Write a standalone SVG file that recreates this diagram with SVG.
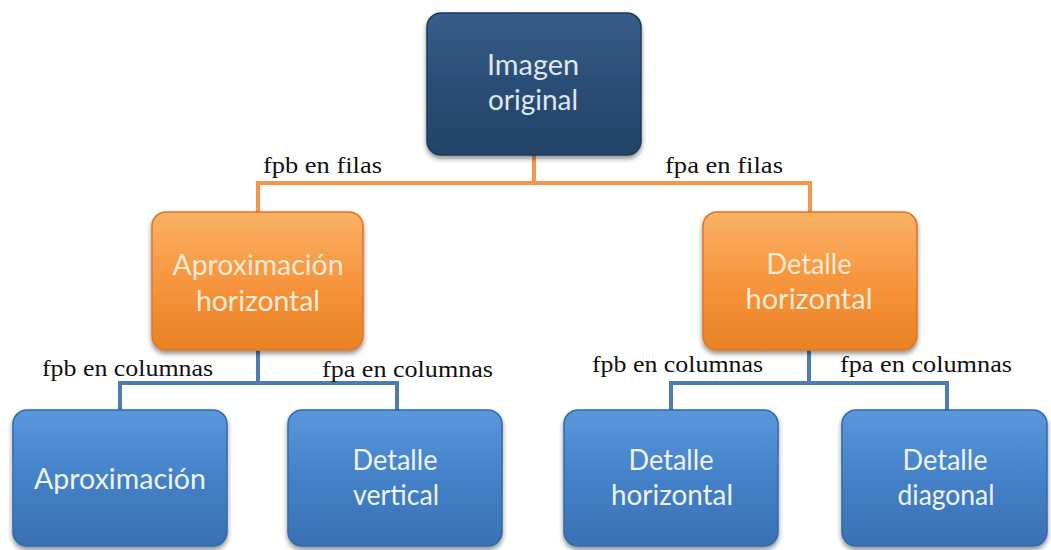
<svg xmlns="http://www.w3.org/2000/svg" width="1051" height="550" viewBox="0 0 1051 550">
  <defs>
    <linearGradient id="gNavy" x1="0" y1="0" x2="0" y2="1">
      <stop offset="0" stop-color="#375e8a"/>
      <stop offset="0.5" stop-color="#2b4d76"/>
      <stop offset="1" stop-color="#244368"/>
    </linearGradient>
    <linearGradient id="gOrange" x1="0" y1="0" x2="0" y2="1">
      <stop offset="0" stop-color="#fbb266"/>
      <stop offset="0.5" stop-color="#f7953e"/>
      <stop offset="1" stop-color="#ea8124"/>
    </linearGradient>
    <linearGradient id="gBlue" x1="0" y1="0" x2="0" y2="1">
      <stop offset="0" stop-color="#5a97dc"/>
      <stop offset="0.5" stop-color="#4481c8"/>
      <stop offset="1" stop-color="#3a70b4"/>
    </linearGradient>
    <filter id="shadow" x="-10%" y="-10%" width="120%" height="130%">
      <feGaussianBlur in="SourceAlpha" stdDeviation="2.5"/>
      <feOffset dx="0" dy="3" result="b"/>
      <feComponentTransfer><feFuncA type="linear" slope="0.45"/></feComponentTransfer>
      <feMerge><feMergeNode/><feMergeNode in="SourceGraphic"/></feMerge>
    </filter>
  </defs>
  <style>
    .navy { fill: url(#gNavy); stroke: #1e3a5c; stroke-width: 1.5; filter: url(#shadow); }
    .orange { fill: url(#gOrange); stroke: #d9782a; stroke-width: 1.5; filter: url(#shadow); }
    .blue { fill: url(#gBlue); stroke: #336aa8; stroke-width: 1.5; filter: url(#shadow); }
    .lbl { font-family: "Lato", "Open Sans", sans-serif; font-size: 28px; text-anchor: middle; }
    .tNavy { fill: #dfe6ef; }
    .tOrange { fill: #fdebd6; }
    .tBlue { fill: #eef4fb; }
    .edge { font-family: "Liberation Serif", "Times New Roman", serif; font-size: 24px; fill: #111111; }
    .cOrange { fill: none; stroke: #f5964a; stroke-width: 4; }
    .cBlue { fill: none; stroke: #4d7cb4; stroke-width: 4; }
  </style>

  <rect width="1051" height="550" fill="#ffffff"/>

  <!-- connectors -->
  <g id="connectors">
    <path class="cOrange" d="M534 155 V183 M258 183 H810 M258 181 V212 M810 181 V212"/>
    <path class="cBlue" d="M258 350 V383 M120 383 H397 M120 381 V410 M397 381 V410"/>
    <path class="cBlue" d="M809 350 V383 M671 383 H947 M671 381 V410 M947 381 V410"/>
    <text class="edge" x="263" y="173" textLength="119" lengthAdjust="spacingAndGlyphs">fpb en filas</text>
    <text class="edge" x="665" y="173" textLength="118" lengthAdjust="spacingAndGlyphs">fpa en filas</text>
    <text class="edge" x="42" y="376" textLength="171" lengthAdjust="spacingAndGlyphs">fpb en columnas</text>
    <text class="edge" x="322" y="377" textLength="171" lengthAdjust="spacingAndGlyphs">fpa en columnas</text>
    <text class="edge" x="592" y="372" textLength="171" lengthAdjust="spacingAndGlyphs">fpb en columnas</text>
    <text class="edge" x="840" y="372" textLength="172" lengthAdjust="spacingAndGlyphs">fpa en columnas</text>
  </g>

  <!-- root -->
  <g id="imagen-original">
    <rect class="navy" x="427" y="13" width="214" height="142" rx="14"/>
    <text class="lbl tNavy" x="533" y="75" textLength="92" lengthAdjust="spacingAndGlyphs">Imagen</text>
    <text class="lbl tNavy" x="533" y="110" textLength="90" lengthAdjust="spacingAndGlyphs">original</text>
  </g>

  <!-- level 1 -->
  <g id="aprox-horizontal">
    <rect class="orange" x="152" y="212" width="211" height="138" rx="14"/>
    <text class="lbl tOrange" x="258" y="275" textLength="171" lengthAdjust="spacingAndGlyphs">Aproximación</text>
    <text class="lbl tOrange" x="258" y="311" textLength="124" lengthAdjust="spacingAndGlyphs">horizontal</text>
  </g>
  <g id="detalle-horizontal-1">
    <rect class="orange" x="703" y="212" width="214" height="138" rx="14"/>
    <text class="lbl tOrange" x="809" y="274" textLength="85" lengthAdjust="spacingAndGlyphs">Detalle</text>
    <text class="lbl tOrange" x="809" y="309" textLength="127" lengthAdjust="spacingAndGlyphs">horizontal</text>
  </g>

  <!-- level 2 -->
  <g id="aproximacion">
    <rect class="blue" x="13" y="410" width="214" height="136" rx="14"/>
    <text class="lbl tBlue" x="120" y="489" textLength="172" lengthAdjust="spacingAndGlyphs">Aproximación</text>
  </g>
  <g id="detalle-vertical">
    <rect class="blue" x="288" y="410" width="214" height="136" rx="14"/>
    <text class="lbl tBlue" x="395" y="470" textLength="85" lengthAdjust="spacingAndGlyphs">Detalle</text>
    <text class="lbl tBlue" x="396" y="505" textLength="86" lengthAdjust="spacingAndGlyphs">vertical</text>
  </g>
  <g id="detalle-horizontal-2">
    <rect class="blue" x="564" y="410" width="214" height="136" rx="14"/>
    <text class="lbl tBlue" x="671" y="470" textLength="85" lengthAdjust="spacingAndGlyphs">Detalle</text>
    <text class="lbl tBlue" x="672" y="505" textLength="122" lengthAdjust="spacingAndGlyphs">horizontal</text>
  </g>
  <g id="detalle-diagonal">
    <rect class="blue" x="842" y="410" width="205" height="136" rx="14"/>
    <text class="lbl tBlue" x="945" y="470" textLength="85" lengthAdjust="spacingAndGlyphs">Detalle</text>
    <text class="lbl tBlue" x="946" y="505" textLength="97" lengthAdjust="spacingAndGlyphs">diagonal</text>
  </g>
</svg>
